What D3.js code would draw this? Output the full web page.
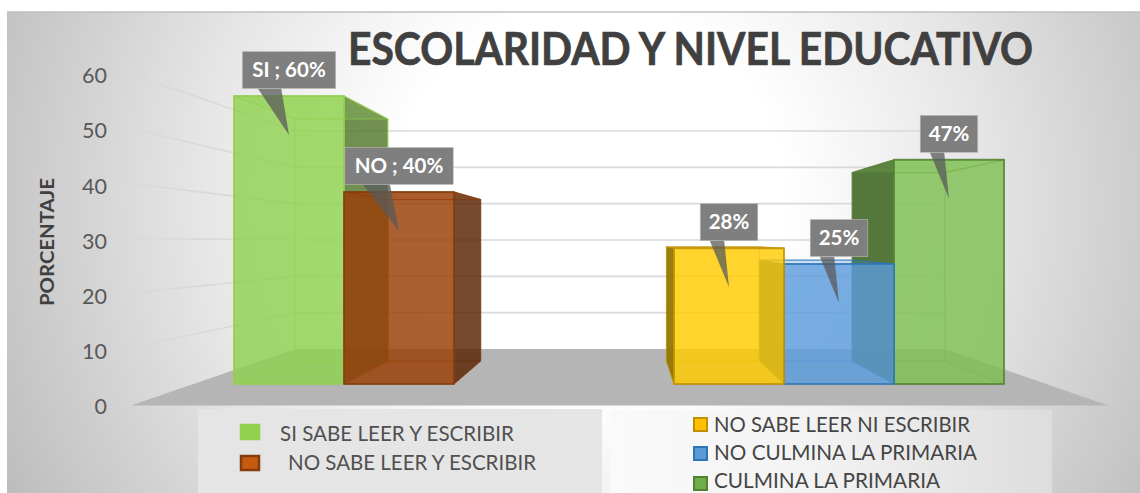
<!DOCTYPE html>
<html><head><meta charset="utf-8">
<script src="https://cdn.jsdelivr.net/npm/d3@7/dist/d3.min.js"></script>
<style>html,body{margin:0;padding:0;background:#fff}svg{display:block}text{font-family:Lato,"Open Sans",sans-serif}</style>
</head><body><svg id="c" width="1140" height="493"></svg>
<script>
// ---- data
const slots = ["SI","NO","gap1","gap2","NO SABE","NO CULMINA","CULMINA"];
const barCategories = ["SI","NO","CULMINA","NO CULMINA","NO SABE"]; // paint order, back to front
const barValues = [60,40,46.7,25,28.3];
const barLabels = ["SI ; 60%","NO ; 40%","47%","25%","28%"];
const barFills = ["#90d24f","#9a3d05","#7fc052","#5c9cdd","#ffcc00"];
const barStrokes = ["#92d050","#843c0c","#548235","#2e75b6","#bf9000"];
const yTicks = [0,10,20,30,40,50,60];
const axisTitle = "PORCENTAJE";
const chartTitle = "ESCOLARIDAD Y NIVEL EDUCATIVO";
const legendLeft = ["SI SABE LEER Y ESCRIBIR","NO SABE LEER Y ESCRIBIR"];
const legendLeftFill = ["#92d050","#c55a11"];
const legendLeftStroke = ["#92d050","#843c0c"];
const legendRight = ["NO SABE LEER NI ESCRIBIR","NO CULMINA LA PRIMARIA","CULMINA LA PRIMARIA"];
const legendRightFill = ["#ffc000","#5b9bd5","#70ad47"];
const legendRightStroke = ["#bf9000","#2e75b6","#548235"];

// ---- scales
const yWallFront = d3.scaleLinear().domain([0,60]).range([405.5,75]);
const yWallBack  = d3.scaleLinear().domain([0,60]).range([349,131]);
const yBarFront  = d3.scaleLinear().domain([0,60]).range([384,96]);
const yBarBack   = d3.scaleLinear().domain([0,60]).range([361,119]);
const xBarFront  = d3.scaleBand().domain(slots).range([234,1004]);
const xBarBack   = d3.scaleBand().domain(slots).range([295,945]);

const svg = d3.select("#c");
const defs = svg.append("defs");
const bg = defs.append("radialGradient").attr("id","bg").attr("gradientUnits","userSpaceOnUse")
  .attr("cx",590).attr("cy",200).attr("r",650);
[[0,"#ffffff"],[.3,"#ffffff"],[.6,"#e6e6e6"],[1,"#bdbdbd"]].forEach(s=>bg.append("stop").attr("offset",s[0]).attr("stop-color",s[1]));
const lg = defs.append("linearGradient").attr("id","lg");
[[0,"#fafafa"],[.45,"#f3f3f3"],[1,"#dddddd"]].forEach(s=>lg.append("stop").attr("offset",s[0]).attr("stop-color",s[1]));

// background
svg.append("rect").attr("x",7).attr("y",12).attr("width",1133).attr("height",481).attr("fill","url(#bg)");
svg.append("line").attr("x1",7).attr("x2",1140).attr("y1",12).attr("y2",12).attr("stroke","#bfbfbf").attr("stroke-width",1.5);

// floor
const poly = pts => pts.map(p=>p.join(",")).join(" ");
svg.append("polygon").attr("fill","#b5b5b5")
  .attr("points",poly([[131,yWallFront(0)],[295,yWallBack(0)],[945,yWallBack(0)],[1108,yWallFront(0)]]));

// wall gridlines
const grid = svg.append("g").attr("fill","none").attr("stroke","#d9d9d9").attr("stroke-width",1.6);
yTicks.filter(t=>t>0).forEach(t=>{
  grid.append("line").attr("x1",128).attr("y1",yWallFront(t)-2).attr("x2",295).attr("y2",yWallBack(t));
  grid.append("line").attr("x1",295).attr("y1",yWallBack(t)).attr("x2",945).attr("y2",yWallBack(t));
});

// axis
const axis = svg.append("g").attr("transform","translate(110,1)")
  .call(d3.axisLeft(yWallFront).tickValues(yTicks).tickSize(0).tickPadding(3));
axis.select(".domain").remove();
axis.selectAll("text").attr("fill","#595959").attr("font-size",21.5).style("font-family","Lato");
svg.append("text").attr("transform","translate(54,242) rotate(-90)").attr("text-anchor","middle")
  .attr("font-size",18).attr("font-weight",700).attr("fill","#404040")
  .attr("textLength",128).attr("lengthAdjust","spacingAndGlyphs").text(axisTitle);

// 3D bars
const bars = svg.append("g");
barCategories.forEach((cat,i)=>{
  const v = barValues[i], c = barFills[i];
  const fl = xBarFront(cat), fr = fl + xBarFront.bandwidth();
  const bl = xBarBack(cat),  br = bl + xBarBack.bandwidth();
  const f0 = yBarFront(0), f1 = yBarFront(v), b0 = yBarBack(0), b1 = yBarBack(v);
  const dark = d3.color(c).darker(1.6).formatHex();
  const g = bars.append("g").attr("stroke",barStrokes[i]).attr("stroke-linejoin","round");
  const face = (pts,fill,op,sw,so) => g.append("polygon").attr("points",poly(pts)).attr("fill",fill)
      .attr("fill-opacity",op).attr("stroke-width",sw).attr("stroke-opacity",so);
  face([[bl,b0],[br,b0],[br,b1],[bl,b1]],c,.12,1,.35);
  face([[fl,f0],[fr,f0],[br,b0],[bl,b0]],c,.1,1,.35);
  const leftOut = bl < fl, rightOut = br > fr;
  face([[fl,f0],[bl,b0],[bl,b1],[fl,f1]],dark,leftOut?.92:.04,1,leftOut?.8:.3);
  face([[fr,f0],[br,b0],[br,b1],[fr,f1]],dark,rightOut?.8:.04,1,rightOut?.8:.3);
  face([[fl,f1],[fr,f1],[br,b1],[bl,b1]],c,.2,1.2,.7);
  face([[fl,f0],[fr,f0],[fr,f1],[fl,f1]],c,.8,2,.8);
});

// callouts
const notes = svg.append("g");
barCategories.forEach((cat,i)=>{
  const cx = xBarFront(cat) + xBarFront.bandwidth()/2, top = yBarFront(barValues[i]);
  const g = notes.append("g");
  const txt = g.append("text").attr("x",cx).attr("y",top-26).attr("dy","0.35em").attr("text-anchor","middle")
    .attr("font-size",20.5).attr("font-weight",700).attr("fill","#fff").text(barLabels[i]);
  const w = txt.node().getComputedTextLength() + (barLabels[i].length>4?20:17);
  const rx = cx-w/2, ry = top-44.5, rb = ry+37;
  g.insert("polygon","text").attr("points",poly([[rx+w/6,rb],[rx+w*5/12,rb],[cx,top+39]])).attr("fill","#595959").attr("fill-opacity",.75);
  g.insert("rect","text").attr("x",rx).attr("y",ry).attr("width",w).attr("height",37).attr("fill","#7f7f7f")
    .attr("stroke","#bdbdbd").attr("stroke-width",.6);
});

// title
svg.append("text").attr("x",348).attr("y",65).attr("font-size",45).attr("font-weight",700).attr("fill","#404040")
  .attr("stroke","#404040").attr("stroke-width",.7)
  .attr("textLength",685).attr("lengthAdjust","spacingAndGlyphs").text(chartTitle);

// legends
svg.append("rect").attr("x",198).attr("y",409).attr("width",404).attr("height",84).attr("fill","#e5e5e5");
svg.append("rect").attr("x",610).attr("y",410).attr("width",442).attr("height",83).attr("fill","url(#lg)");
const lTextX=[280,288], lW=[234,248], lY=[434,463], lSw=[424,455];
legendLeft.forEach((t,i)=>{
  svg.append("rect").attr("x",241).attr("y",lSw[i]+1).attr("width",18).attr("height",14).attr("fill",legendLeftFill[i])
    .attr("stroke",legendLeftStroke[i]).attr("stroke-width",2.5);
  svg.append("text").attr("x",lTextX[i]).attr("y",lY[i]).attr("dy","0.35em").attr("font-size",21).attr("fill","#505050")
    .attr("textLength",lW[i]).attr("lengthAdjust","spacingAndGlyphs").text(t);
});
const rW=[256,263,226], rY=[425,453,480.5], rSw=[417,446,476];
legendRight.forEach((t,i)=>{
  svg.append("rect").attr("x",694).attr("y",rSw[i]+1).attr("width",13).attr("height",13).attr("fill",legendRightFill[i])
    .attr("stroke",legendRightStroke[i]).attr("stroke-width",2);
  svg.append("text").attr("x",714).attr("y",rY[i]).attr("dy","0.35em").attr("font-size",21).attr("fill","#454545")
    .attr("textLength",rW[i]).attr("lengthAdjust","spacingAndGlyphs").text(t);
});
</script></body></html>
